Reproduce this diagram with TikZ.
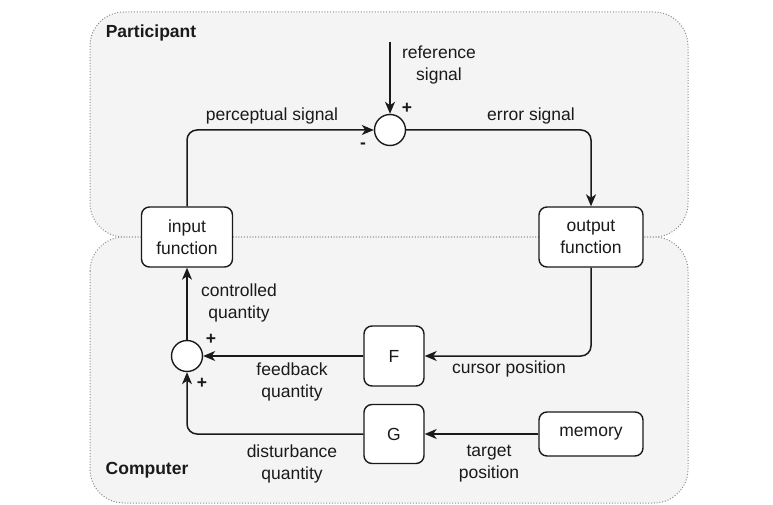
\documentclass[tikz,border=0pt]{standalone}
\usepackage{fontspec}
\setmainfont{Liberation Sans}
\usetikzlibrary{arrows.meta}
\definecolor{panelfill}{HTML}{F4F4F4}
\definecolor{panelline}{HTML}{8C8C8C}
\definecolor{ink}{HTML}{1A1A1A}
\tikzset{
  panel/.style={fill=panelfill, draw=panelline, line width=1pt,
    dash pattern=on 1pt off 1.8pt, rounded corners=34pt},
  block/.style={draw=ink, fill=white, line width=1.4pt, rounded corners=8pt,
    align=center, inner sep=0pt, text=ink},
  sumnode/.style={circle, draw=ink, fill=white, line width=1.4pt,
    minimum size=31pt, inner sep=0pt},
  conn/.style={draw=ink, line width=1.5pt, rounded corners=10pt,
    -{Stealth[length=12pt,width=10pt,inset=3.5pt]}},
  lbl/.style={align=center, text=ink, inner sep=0pt},
  title/.style={font=\fontsize{17.5}{22}\selectfont\bfseries, text=ink, inner sep=0pt},
}
\begin{document}
\begin{tikzpicture}[x=1pt,y=-1pt, font=\fontsize{17.5}{22}\selectfont]
  \useasboundingbox (0,0) rectangle (773,505);
  \fill[white] (0,0) rectangle (773,505);

  % the two regions
  \path[panel] (90,12) rectangle (688,237);
  \path[panel] (90,237) rectangle (688,503);
  \node[title] (tpart) at (151,33) {Participant};
  \node[title] (tcomp) at (147,470) {Computer};

  % blocks
  \node[block, minimum width=91pt, minimum height=60pt] (inp) at (187,237) {input\\function};
  \node[block, minimum width=104pt, minimum height=60pt] (out) at (591,237) {output\\function};
  \node[block, minimum width=60pt, minimum height=60pt] (F) at (394,356) {F};
  \node[block, minimum width=60pt, minimum height=59pt] (G) at (394,434) {G};
  \node[block, minimum width=104pt, minimum height=44pt] (mem) at (591,434) {memory};
  \node[sumnode] (s1) at (390,130) {};
  \node[sumnode] (s2) at (187,356) {};
  \coordinate (ref) at (390,42);

  % connectors
  \draw[conn] (ref) -- (s1.north);
  \draw[conn] (inp.north) |- (s1.west);
  \draw[conn] (s1.east) -| (out.north);
  \draw[conn] (out.south) |- (F.east);
  \draw[conn] (F.west) -- (s2.east);
  \draw[conn] (mem.west) -- (G.east);
  \draw[conn] (G.west) -| (s2.south);
  \draw[conn] (s2.north) -- (inp.south);

  % labels
  \node[lbl] (lref) at (439,65) {reference\\signal};
  \node[lbl, font=\fontsize{17.5}{22}\selectfont\bfseries] (lp1) at (407,108) {+};
  \node[lbl, font=\fontsize{17.5}{22}\selectfont\bfseries] (lm1) at (363,146) {-};
  \node[lbl] (lperc) at (272,116) {perceptual signal};
  \node[lbl] (lerr) at (531,116) {error signal};
  \node[lbl] (lctrl) at (239,303) {controlled\\quantity};
  \node[lbl, font=\fontsize{17.5}{22}\selectfont\bfseries] (lp2) at (211,339) {+};
  \node[lbl, font=\fontsize{17.5}{22}\selectfont\bfseries] (lp3) at (202,383) {+};
  \node[lbl] (lfb) at (292,382) {feedback\\quantity};
  \node[lbl] (lcur) at (509,369) {cursor position};
  \node[lbl] (ldist) at (292,464) {disturbance\\quantity};
  \node[lbl] (ltgt) at (489,464) {target\\position};
\end{tikzpicture}
\end{document}
